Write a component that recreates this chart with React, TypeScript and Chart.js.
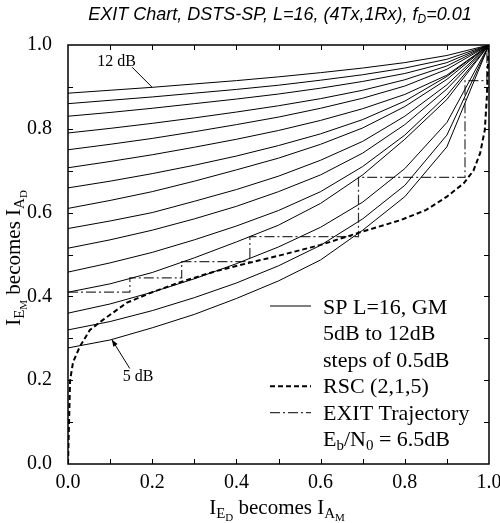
import React, { useEffect, useRef } from "react";
import { Chart, registerables } from "chart.js";

Chart.register(...registerables);

// x samples shared by every SP curve
const spX = [0, 0.1, 0.2, 0.3, 0.4, 0.5, 0.6, 0.7, 0.8, 0.9, 1.0];

// SP L=16, GM curves, Eb/N0 = 5 dB ... 12 dB
const sp50 = [0.277, 0.296, 0.325, 0.357, 0.395, 0.437, 0.487, 0.558, 0.638, 0.757, 1];
const sp55 = [0.32, 0.34, 0.366, 0.397, 0.432, 0.473, 0.522, 0.585, 0.665, 0.785, 1];
const sp60 = [0.36, 0.382, 0.41, 0.442, 0.478, 0.518, 0.565, 0.625, 0.705, 0.815, 1];
const sp65 = [0.41, 0.43, 0.457, 0.492, 0.53, 0.57, 0.622, 0.69, 0.775, 0.87, 1];
const sp70 = [0.458, 0.48, 0.505, 0.535, 0.568, 0.605, 0.65, 0.71, 0.785, 0.88, 1];
const sp75 = [0.515, 0.535, 0.558, 0.585, 0.615, 0.65, 0.69, 0.742, 0.81, 0.895, 1];
const sp80 = [0.562, 0.58, 0.6, 0.627, 0.655, 0.687, 0.725, 0.77, 0.83, 0.905, 1];
const sp85 = [0.61, 0.629, 0.65, 0.675, 0.702, 0.73, 0.763, 0.802, 0.853, 0.918, 1];
const sp90 = [0.659, 0.675, 0.693, 0.713, 0.735, 0.76, 0.788, 0.822, 0.866, 0.925, 1];
const sp95 = [0.707, 0.722, 0.738, 0.756, 0.775, 0.796, 0.82, 0.848, 0.882, 0.928, 1];
const sp100 = [0.75, 0.763, 0.777, 0.793, 0.81, 0.828, 0.849, 0.873, 0.902, 0.942, 1];
const sp105 = [0.79, 0.801, 0.813, 0.826, 0.84, 0.855, 0.872, 0.892, 0.917, 0.95, 1];
const sp110 = [0.83, 0.839, 0.849, 0.86, 0.871, 0.883, 0.897, 0.913, 0.932, 0.958, 1];
const sp115 = [0.86, 0.868, 0.876, 0.885, 0.894, 0.904, 0.916, 0.929, 0.945, 0.966, 1];
const sp120 = [0.885, 0.892, 0.899, 0.907, 0.915, 0.924, 0.934, 0.945, 0.958, 0.975, 1];

const spCurves = [sp50, sp55, sp60, sp65, sp70, sp75, sp80, sp85, sp90, sp95, sp100, sp105, sp110, sp115, sp120];

// RSC (2,1,5) inverted EXIT curve
const rscX = [0, 0.002, 0.005, 0.012, 0.028, 0.052, 0.083, 0.14, 0.2, 0.27, 0.35, 0.43, 0.5, 0.6, 0.71, 0.79, 0.85, 0.9, 0.94, 0.963, 0.979, 0.99, 0.995, 0.998, 1];
const rscY = [0, 0.08, 0.2, 0.243, 0.28, 0.32, 0.344, 0.385, 0.41, 0.435, 0.46, 0.48, 0.497, 0.523, 0.558, 0.582, 0.606, 0.638, 0.67, 0.7, 0.742, 0.797, 0.877, 0.97, 1];

// EXIT trajectory at Eb/N0 = 6.5 dB
const trajX = [0, 0.147, 0.147, 0.27, 0.27, 0.432, 0.432, 0.69, 0.69, 0.943, 0.943, 0.995, 0.995];
const trajY = [0.41, 0.41, 0.444, 0.444, 0.483, 0.483, 0.5425, 0.5425, 0.684, 0.684, 0.915, 0.915, 1.0];

const xTickValues = [0, 0.2, 0.4, 0.6, 0.8, 1.0];
const minorTicks = [0.1, 0.2, 0.3, 0.4, 0.5, 0.6, 0.7, 0.8, 0.9];

const titleMain = "EXIT Chart, DSTS-SP, L=16, (4Tx,1Rx), f";
const titleSub = "D";
const titleEnd = "=0.01";

const legendRows = [
  "SP L=16, GM",
  "5dB to 12dB",
  "steps of 0.5dB",
  "RSC (2,1,5)",
  "EXIT Trajectory",
];

const SERIF = "'Liberation Serif', 'Times New Roman', serif";
const SANS = "'Liberation Sans', Arial, sans-serif";

type Run = { t: string; size: number; dy: number };

function runsWidth(ctx: CanvasRenderingContext2D, runs: Run[], family: string, style: string) {
  let w = 0;
  for (const r of runs) {
    ctx.font = `${style} ${r.size}px ${family}`;
    w += ctx.measureText(r.t).width;
  }
  return w;
}

function drawRuns(
  ctx: CanvasRenderingContext2D,
  runs: Run[],
  x: number,
  y: number,
  align: "left" | "center",
  family: string,
  style = ""
) {
  const w = runsWidth(ctx, runs, family, style);
  let cx = align === "center" ? x - w / 2 : x;
  ctx.textAlign = "left";
  ctx.textBaseline = "alphabetic";
  for (const r of runs) {
    ctx.font = `${style} ${r.size}px ${family}`;
    ctx.fillText(r.t, cx, y + r.dy);
    cx += ctx.measureText(r.t).width;
  }
}

function interp(xs: number[], ys: number[], x: number) {
  for (let i = 0; i < xs.length - 1; i++) {
    if (x >= xs[i] && x <= xs[i + 1]) {
      const t = (x - xs[i]) / (xs[i + 1] - xs[i]);
      return ys[i] + t * (ys[i + 1] - ys[i]);
    }
  }
  return ys[ys.length - 1];
}

const axisRunsX: Run[] = [
  { t: "I", size: 21, dy: 0 },
  { t: "E", size: 15, dy: 4 },
  { t: "D", size: 11, dy: 7 },
  { t: " becomes I", size: 21, dy: 0 },
  { t: "A", size: 15, dy: 4 },
  { t: "M", size: 11, dy: 7 },
];
const axisRunsY: Run[] = [
  { t: "I", size: 21, dy: 0 },
  { t: "E", size: 15, dy: 4 },
  { t: "M", size: 11, dy: 7 },
  { t: " becomes I", size: 21, dy: 0 },
  { t: "A", size: 15, dy: 4 },
  { t: "D", size: 11, dy: 7 },
];

const decorPlugin = {
  id: "decor",
  afterDraw(chart: any) {
    const ctx: CanvasRenderingContext2D = chart.ctx;
    const xs = chart.scales.x;
    const ys = chart.scales.y;
    const { left, right, top, bottom } = chart.chartArea;
    ctx.save();
    ctx.fillStyle = "#000";
    ctx.strokeStyle = "#000";

    // frame
    ctx.lineWidth = 1.5;
    ctx.strokeRect(left, top, right - left, bottom - top);

    // inward ticks on all four sides
    ctx.lineWidth = 1;
    const tl = 5;
    ctx.beginPath();
    for (const v of minorTicks) {
      const px = Math.round(xs.getPixelForValue(v)) + 0.5;
      ctx.moveTo(px, bottom);
      ctx.lineTo(px, bottom - tl);
      ctx.moveTo(px, top);
      ctx.lineTo(px, top + tl);
      const py = Math.round(ys.getPixelForValue(v)) + 0.5;
      ctx.moveTo(left, py);
      ctx.lineTo(left + tl, py);
      ctx.moveTo(right, py);
      ctx.lineTo(right - tl, py);
    }
    ctx.stroke();

    // x tick labels
    ctx.font = `20px ${SERIF}`;
    ctx.textAlign = "center";
    ctx.textBaseline = "alphabetic";
    for (const v of xTickValues) {
      ctx.fillText(v.toFixed(1), xs.getPixelForValue(v), bottom + 24);
    }

    // title
    drawRuns(
      ctx,
      [
        { t: titleMain, size: 18, dy: 0 },
        { t: titleSub, size: 12, dy: 3 },
        { t: titleEnd, size: 18, dy: 0 },
      ],
      280,
      20,
      "center",
      SANS,
      "italic"
    );

    // x axis title
    drawRuns(ctx, axisRunsX, 277, 514, "center", SERIF);

    // y axis title
    ctx.save();
    ctx.translate(20, 258);
    ctx.rotate(-Math.PI / 2);
    drawRuns(ctx, axisRunsY, 0, 0, "center", SERIF);
    ctx.restore();

    // legend
    const lx0 = 270;
    const lx1 = 311;
    const tx = 323;
    const base0 = 314;
    const step = 26.4;
    ctx.font = `22px ${SERIF}`;
    ctx.textAlign = "left";
    ctx.textBaseline = "alphabetic";
    legendRows.forEach((row, i) => {
      ctx.fillText(row, tx, base0 + step * i);
    });
    drawRuns(
      ctx,
      [
        { t: "E", size: 22, dy: 0 },
        { t: "b", size: 15, dy: 4 },
        { t: "/N", size: 22, dy: 0 },
        { t: "0", size: 15, dy: 4 },
        { t: " = 6.5dB", size: 22, dy: 0 },
      ],
      tx,
      base0 + step * 5,
      "left",
      SERIF
    );
    // legend samples
    ctx.lineWidth = 1;
    ctx.strokeStyle = "#000";
    ctx.setLineDash([]);
    ctx.beginPath();
    ctx.moveTo(lx0, base0 - 8);
    ctx.lineTo(lx1, base0 - 8);
    ctx.stroke();
    ctx.lineWidth = 2;
    ctx.setLineDash([5, 3]);
    ctx.beginPath();
    ctx.moveTo(lx0, base0 + step * 3 - 7);
    ctx.lineTo(lx1, base0 + step * 3 - 7);
    ctx.stroke();
    ctx.lineWidth = 1.2;
    ctx.strokeStyle = "#333";
    ctx.setLineDash([10, 3, 2, 3]);
    ctx.beginPath();
    ctx.moveTo(lx0, base0 + step * 4 - 7);
    ctx.lineTo(lx1, base0 + step * 4 - 7);
    ctx.stroke();
    ctx.setLineDash([]);
    ctx.strokeStyle = "#000";

    // annotation: 12 dB
    const a12x = xs.getPixelForValue(0.2);
    const a12y = ys.getPixelForValue(interp(spX, sp120, 0.2));
    ctx.font = `16px ${SERIF}`;
    ctx.fillText("12 dB", a12x - 55, a12y - 21);
    ctx.lineWidth = 1;
    ctx.beginPath();
    ctx.moveTo(a12x - 20, a12y - 20);
    ctx.lineTo(a12x, a12y);
    ctx.stroke();

    // annotation: 5 dB
    const a5x = xs.getPixelForValue(0.104);
    const a5y = ys.getPixelForValue(interp(spX, sp50, 0.104));
    ctx.fillText("5 dB", a5x + 11, a5y + 42);
    const sx = a5x + 18;
    const sy = a5y + 29;
    ctx.beginPath();
    ctx.moveTo(sx, sy);
    ctx.lineTo(a5x, a5y);
    ctx.stroke();
    const ang = Math.atan2(a5y - sy, a5x - sx);
    const hl = 7;
    const hw = 2.5;
    ctx.beginPath();
    ctx.moveTo(a5x, a5y);
    ctx.lineTo(
      a5x - hl * Math.cos(ang) + hw * Math.sin(ang),
      a5y - hl * Math.sin(ang) - hw * Math.cos(ang)
    );
    ctx.lineTo(
      a5x - hl * Math.cos(ang) - hw * Math.sin(ang),
      a5y - hl * Math.sin(ang) + hw * Math.cos(ang)
    );
    ctx.closePath();
    ctx.fill();

    ctx.restore();
  },
};

export default function App() {
  const ref = useRef<HTMLCanvasElement | null>(null);

  useEffect(() => {
    document.body.style.margin = "0";
    const canvas = ref.current;
    if (!canvas) return;

    const datasets: any[] = spCurves.map((ys) => ({
      data: spX.map((x, i) => ({ x, y: ys[i] })),
      borderColor: "#000",
      borderWidth: 1,
      pointRadius: 0,
      tension: 0,
      fill: false,
    }));
    datasets.push({
      data: rscX.map((x, i) => ({ x, y: rscY[i] })),
      borderColor: "#000",
      borderWidth: 2,
      borderDash: [5, 3],
      pointRadius: 0,
      tension: 0,
      fill: false,
    });
    datasets.push({
      data: trajX.map((x, i) => ({ x, y: trajY[i] })),
      borderColor: "#333",
      borderWidth: 1.2,
      borderDash: [10, 3, 2, 3],
      pointRadius: 0,
      tension: 0,
      fill: false,
    });

    const chart = new Chart(canvas, {
      type: "line",
      data: { datasets },
      options: {
        responsive: false,
        animation: false,
        devicePixelRatio: 1,
        layout: { padding: { left: 0, top: 45, right: 11, bottom: 0 } },
        plugins: {
          legend: { display: false },
          title: { display: false },
          tooltip: { enabled: false },
        },
        scales: {
          x: {
            type: "linear",
            min: 0,
            max: 1,
            grid: { display: false, drawTicks: false },
            border: { display: false },
            ticks: { display: false },
            afterFit: (s: any) => {
              s.height = 59;
              s.paddingLeft = 0;
              s.paddingRight = 0;
            },
          },
          y: {
            type: "linear",
            min: 0,
            max: 1,
            grid: { display: false, drawTicks: false },
            border: { display: false },
            ticks: {
              stepSize: 0.2,
              color: "#000",
              padding: 16,
              font: { family: SERIF, size: 20 },
              callback: (v: any) => Number(v).toFixed(1),
            },
            afterFit: (s: any) => {
              s.width = 68;
              s.paddingTop = 0;
              s.paddingBottom = 0;
            },
          },
        },
      },
      plugins: [decorPlugin],
    } as any);

    return () => chart.destroy();
  }, []);

  return (
    <div style={{ width: 500, height: 523, background: "#fff" }}>
      <canvas ref={ref} width={500} height={523} />
    </div>
  );
}
